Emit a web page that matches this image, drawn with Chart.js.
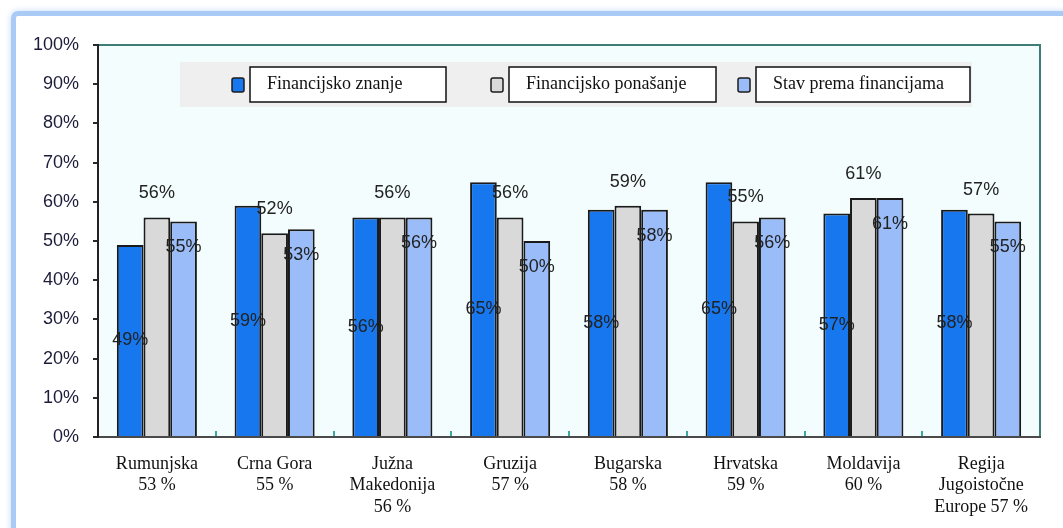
<!DOCTYPE html>
<html>
<head>
<meta charset="utf-8">
<script src="https://cdn.jsdelivr.net/npm/chart.js@4.4.1/dist/chart.umd.min.js"></script>
<style>
  html, body { margin: 0; padding: 0; background: #fff; overflow: hidden; }
  #frame { position: absolute; left: 11px; top: 11px; width: 1100px; height: 560px;
           border: 5px solid #a9caf4; border-radius: 7px; box-shadow: 0 0 6px #c6dbf7; box-sizing: border-box; }
  #wrap { position: absolute; left: 0; top: 0; width: 1063px; height: 528px; }
</style>
</head>
<body>
<div id="frame"></div>
<div id="wrap"><canvas id="chart"></canvas></div>
<script>
// data
const countries = [
  ['Rumunjska', '53 %'],
  ['Crna Gora', '55 %'],
  ['Južna', 'Makedonija', '56 %'],
  ['Gruzija', '57 %'],
  ['Bugarska', '58 %'],
  ['Hrvatska', '59 %'],
  ['Moldavija', '60 %'],
  ['Regija', 'Jugoistočne', 'Europe 57 %']
];
const znanje    = [49, 59, 56, 65, 58, 65, 57, 58];
const ponasanje = [56, 52, 56, 56, 59, 55, 61, 57];
const stav      = [55, 53, 56, 50, 58, 56, 61, 55];
const seriesNames = ['Financijsko znanje', 'Financijsko ponašanje', 'Stav prema financijama'];

const ctx = document.getElementById('chart').getContext('2d');

// light plot background + top/right frame + small category ticks
const plotFrame = {
  id: 'plotFrame',
  beforeDraw(chart) {
    const a = chart.chartArea, c = chart.ctx;
    c.save();
    c.fillStyle = '#f4fdfd';
    c.fillRect(a.left, a.top, a.right - a.left, a.bottom - a.top);
    c.strokeStyle = '#3f7d79';
    c.lineWidth = 2;
    c.beginPath();
    c.moveTo(a.left, a.top);
    c.lineTo(a.right, a.top);
    c.lineTo(a.right, a.bottom);
    c.stroke();
    // inner ticks between categories
    const x = chart.scales.x;
    c.strokeStyle = '#3aa7a0';
    c.lineWidth = 2;
    for (let i = 1; i < countries.length; i++) {
      const px = Math.round(x.getPixelForValue(i - 0.5));
      c.beginPath();
      c.moveTo(px, a.bottom);
      c.lineTo(px, a.bottom - 6);
      c.stroke();
    }
    c.restore();
  }
};

// value labels: blue in the middle, gray above, light blue under the top
const valueLabels = {
  id: 'valueLabels',
  afterDatasetsDraw(chart) {
    const c = chart.ctx;
    c.save();
    c.font = '18px "Liberation Sans", Arial, sans-serif';
    c.fillStyle = '#222';
    c.textAlign = 'center';
    c.textBaseline = 'middle';
    chart.data.datasets.forEach((ds, di) => {
      const meta = chart.getDatasetMeta(di);
      meta.data.forEach((bar, i) => {
        let y;
        if (ds.labelPos === 'center') y = (bar.y + bar.base) / 2;
        else if (ds.labelPos === 'above') y = bar.y - 24;
        else y = bar.y + 26;
        c.fillText(ds.data[i] + '%', bar.x, y);
      });
    });
    c.restore();
  }
};

// boxed legend on a gray band
const boxLegend = {
  id: 'boxLegend',
  afterDraw(chart) {
    const c = chart.ctx;
    const boxes = [{ x: 250, w: 196 }, { x: 509, w: 207 }, { x: 756, w: 214 }];
    c.save();
    c.fillStyle = '#efefef';
    c.fillRect(180, 62, 792, 45);
    c.font = '18px "Liberation Serif", "Times New Roman", serif';
    c.textBaseline = 'middle';
    chart.data.datasets.forEach((ds, i) => {
      const b = boxes[i];
      // marker
      c.fillStyle = ds.backgroundColor;
      c.strokeStyle = '#1c1c1c';
      c.lineWidth = 1.5;
      c.beginPath();
      c.roundRect(b.x - 18, 78, 12, 14, 2);
      c.fill();
      c.stroke();
      // white box
      c.fillStyle = '#fff';
      c.fillRect(b.x, 67, b.w, 35);
      c.strokeStyle = '#111';
      c.lineWidth = 1.5;
      c.strokeRect(b.x, 67, b.w, 35);
      c.fillStyle = '#111';
      c.fillText(ds.label, b.x + 17, 84);
    });
    c.restore();
  }
};

new Chart(ctx, {
  type: 'bar',
  data: {
    labels: countries,
    datasets: [
      { label: seriesNames[0], data: znanje, backgroundColor: '#1677ee', labelPos: 'center' },
      { label: seriesNames[1], data: ponasanje, backgroundColor: '#d9d9d9', labelPos: 'above' },
      { label: seriesNames[2], data: stav, backgroundColor: '#9abcf8', labelPos: 'below' }
    ]
  },
  options: {
    responsive: true,
    maintainAspectRatio: false,
    animation: false,
    layout: { padding: { left: 0, right: 23, top: 45, bottom: 0 } },
    datasets: {
      bar: { borderColor: '#1a1a1a', borderWidth: 2, categoryPercentage: 0.68, barPercentage: 1 }
    },
    plugins: {
      legend: { display: false },
      tooltip: { enabled: false }
    },
    scales: {
      x: {
        grid: { display: false, drawTicks: false },
        border: { color: '#4a4a4a', width: 2 },
        ticks: {
          color: '#111',
          font: { family: '"Liberation Serif", "Times New Roman", serif', size: 18, lineHeight: 1.2 },
          padding: 16,
          maxRotation: 0,
          autoSkip: false
        },
        afterFit(s) { s.height = 91; }
      },
      y: {
        min: 0,
        max: 100,
        grid: { drawOnChartArea: false, drawTicks: true, tickLength: 5, tickColor: '#2a2a2a', lineWidth: 2 },
        border: { color: '#222', width: 2 },
        ticks: {
          stepSize: 10,
          callback: v => v + '%',
          color: '#1c1c3a',
          font: { family: '"Liberation Sans", Arial, sans-serif', size: 18 },
          padding: 14
        },
        afterFit(s) { s.width = 98; }
      }
    }
  },
  plugins: [plotFrame, valueLabels, boxLegend]
});
</script>
</body>
</html>
